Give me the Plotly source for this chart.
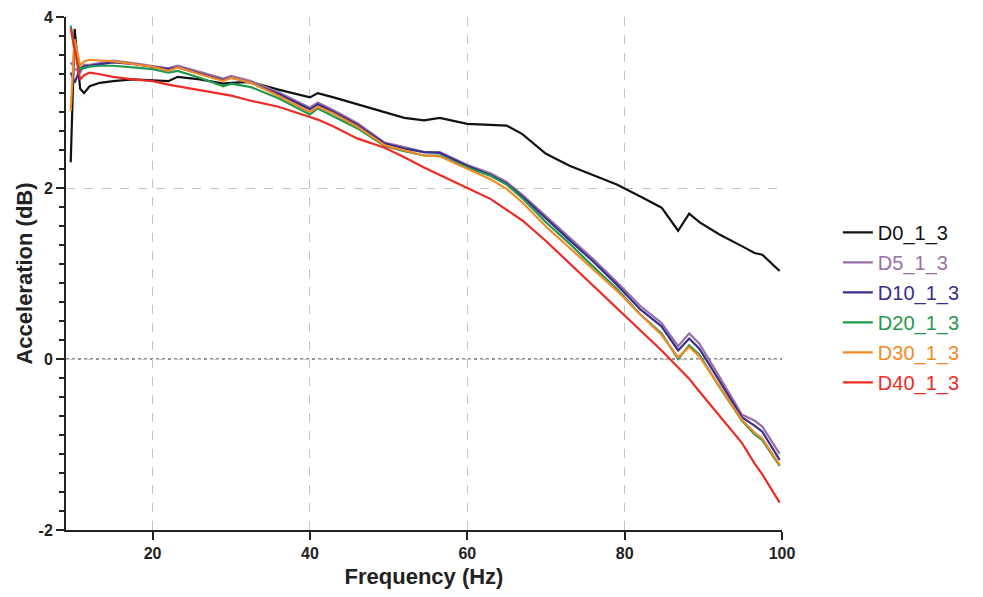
import plotly.graph_objects as go

freq = [9.6, 10.1, 10.8, 11.3, 12, 13.3, 15, 17.5, 20, 22, 23.2, 26, 29, 30, 32.5, 36, 40, 41, 43, 46,
        49.5, 52, 54.5, 56.5, 60, 63, 65, 67, 70, 73, 76, 79, 82, 84.7, 86.8, 88.2, 89.5, 92, 94.9,
        96.5, 97.5, 99.7]

d0 = [2.30, 3.86, 3.16, 3.11, 3.19, 3.23, 3.25, 3.27, 3.26, 3.25, 3.30, 3.27, 3.22, 3.23, 3.24, 3.15,
      3.06, 3.11, 3.06, 2.98, 2.88, 2.82, 2.79, 2.82, 2.75, 2.74, 2.73, 2.63, 2.40, 2.26, 2.15, 2.04,
      1.90, 1.77, 1.50, 1.70, 1.60, 1.46, 1.32, 1.24, 1.22, 1.03]
d5 = [3.47, 3.40, 3.35, 3.44, 3.44, 3.46, 3.49, 3.46, 3.43, 3.40, 3.43, 3.36, 3.28, 3.31, 3.25, 3.12,
      2.94, 3.00, 2.91, 2.76, 2.53, 2.48, 2.42, 2.42, 2.27, 2.17, 2.07, 1.92, 1.67, 1.42, 1.17, 0.90,
      0.62, 0.42, 0.15, 0.30, 0.18, -0.20, -0.65, -0.72, -0.79, -1.11]
d10 = [3.35, 3.23, 3.40, 3.42, 3.43, 3.45, 3.47, 3.45, 3.42, 3.39, 3.41, 3.34, 3.26, 3.29, 3.23, 3.10,
       2.92, 2.98, 2.89, 2.74, 2.52, 2.46, 2.42, 2.41, 2.26, 2.15, 2.05, 1.90, 1.64, 1.39, 1.14, 0.87,
       0.58, 0.38, 0.10, 0.24, 0.12, -0.25, -0.68, -0.78, -0.85, -1.18]
d20 = [3.90, 3.60, 3.39, 3.40, 3.42, 3.43, 3.43, 3.41, 3.39, 3.35, 3.37, 3.29, 3.19, 3.22, 3.18, 3.05,
       2.86, 2.93, 2.84, 2.70, 2.49, 2.43, 2.38, 2.38, 2.24, 2.14, 2.04, 1.88, 1.60, 1.35, 1.08, 0.82,
       0.52, 0.30, 0.00, 0.16, 0.05, -0.32, -0.72, -0.88, -0.95, -1.25]
d30 = [2.90, 3.74, 3.43, 3.48, 3.50, 3.49, 3.48, 3.45, 3.42, 3.37, 3.41, 3.33, 3.25, 3.29, 3.23, 3.08,
       2.89, 2.95, 2.87, 2.72, 2.50, 2.44, 2.38, 2.37, 2.22, 2.10, 1.99, 1.83, 1.55, 1.30, 1.04, 0.80,
       0.52, 0.28, 0.02, 0.14, 0.03, -0.32, -0.71, -0.86, -0.93, -1.24]
d40 = [3.87, 3.60, 3.27, 3.32, 3.35, 3.33, 3.30, 3.27, 3.25, 3.21, 3.19, 3.15, 3.10, 3.08, 3.02, 2.95,
       2.83, 2.80, 2.72, 2.58, 2.47, 2.36, 2.24, 2.15, 2.00, 1.87, 1.75, 1.62, 1.38, 1.12, 0.86, 0.60,
       0.34, 0.10, -0.10, -0.23, -0.38, -0.66, -0.98, -1.22, -1.35, -1.68]

series_names = ["D0_1_3", "D5_1_3", "D10_1_3", "D20_1_3", "D30_1_3", "D40_1_3"]
series_values = [d0, d5, d10, d20, d30, d40]
series_colors = ["#111111", "#9a6fa6", "#3a2e8c", "#1f9a4e", "#f28a26", "#ee2b24"]

x_ticks = [20, 40, 60, 80, 100]
y_ticks = [-2, 0, 2, 4]

fig = go.Figure()
for name, vals, col in zip(series_names, series_values, series_colors):
    fig.add_trace(go.Scatter(
        x=freq, y=vals, mode="lines",
        line=dict(color=col, width=2.2),
        name=f"<span style='color:{col}'>{name}</span>",
        legendgroup=name,
    ))

fig.add_hline(y=0, line=dict(color="#222222", width=1, dash="dot"), layer="below")

FONT = "Liberation Sans, Arial, sans-serif"
axis_font = dict(family=FONT, size=16, color="#222222")
title_font = dict(family=FONT, size=22, color="#222222")

fig.update_layout(
    width=967, height=581,
    paper_bgcolor="white", plot_bgcolor="white",
    margin=dict(l=58, r=193, t=9, b=59),
    font=dict(family=FONT),
    legend=dict(
        x=1.078, y=0.618, xanchor="left", yanchor="top",
        font=dict(family=FONT, size=20),
        tracegroupgap=1, bgcolor="rgba(0,0,0,0)",
    ),
    xaxis=dict(
        range=[9, 100], tickvals=x_ticks, ticktext=[f"<b>{v}</b>" for v in x_ticks],
        showline=True, linecolor="#222222", linewidth=2,
        ticks="outside", ticklen=8, tickwidth=2, tickcolor="#222222",
        showgrid=True, gridcolor="#c4c4c4", griddash="dash", gridwidth=1,
        zeroline=False, automargin=False,
        tickfont=axis_font,
        title=dict(text="<b>Frequency (Hz)</b>", font=title_font, standoff=10),
    ),
    yaxis=dict(
        range=[-2, 4], tickvals=y_ticks, ticktext=[f"<b>{v}</b>" for v in y_ticks],
        showline=True, linecolor="#222222", linewidth=2,
        ticks="outside", ticklen=8, tickwidth=2, tickcolor="#222222",
        minor=dict(tick0=-2, dtick=2/9, ticks="outside", ticklen=5, tickwidth=2,
                   tickcolor="#222222", showgrid=False),
        showgrid=True, gridcolor="#c4c4c4", griddash="dash", gridwidth=1,
        zeroline=False, automargin=False,
        tickfont=axis_font,
        title=dict(text="<b>Acceleration (dB)</b>", font=title_font, standoff=0),
    ),
)

fig.write_html("out.html")
